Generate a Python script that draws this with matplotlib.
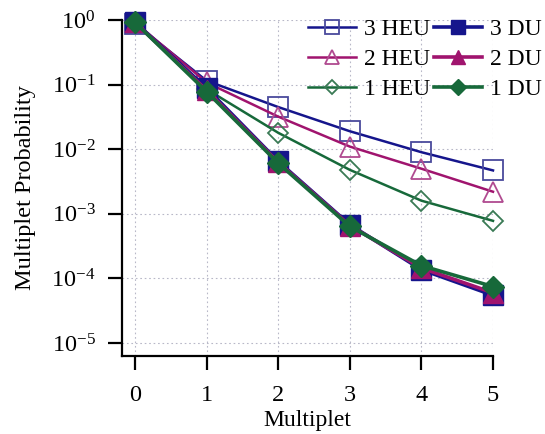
import math
import matplotlib
matplotlib.use("Agg")
import matplotlib.pyplot as plt
from matplotlib.ticker import FixedLocator, FuncFormatter

plt.rcParams['font.family'] = ['Liberation Serif', 'DejaVu Serif']
plt.rcParams['mathtext.fontset'] = 'custom'
plt.rcParams['mathtext.rm'] = 'Liberation Serif'
plt.rcParams['mathtext.it'] = 'Liberation Serif:italic'

multiplet = [0, 1, 2, 3, 4, 5]
heu3 = [0.88, 0.115, 0.045, 0.019, 0.0090, 0.0047]
heu2 = [0.92, 0.108, 0.032, 0.0110, 0.0050, 0.0022]
heu1 = [0.90, 0.085, 0.018, 0.0048, 0.0016, 0.00078]
du3 = [0.93, 0.088, 0.0065, 0.00068, 0.000137, 0.000055]
du2 = [0.92, 0.082, 0.0063, 0.00066, 0.000145, 0.000060]
du1 = [0.92, 0.078, 0.0061, 0.00064, 0.000158, 0.000075]
xticks = [0, 1, 2, 3, 4, 5]
yticks = [1e0, 1e-1, 1e-2, 1e-3, 1e-4, 1e-5]

navy = '#15158c'
purple = '#a0146e'
green = '#17693a'

fig = plt.figure(figsize=(5.45, 4.34), dpi=100)
ax = fig.add_axes([0.2239, 0.1797, 0.6807, 0.7742])

kw = dict(clip_on=False)
ax.plot(multiplet, heu3, '-', color=navy, lw=1.8, marker='s', ms=14, mfc='none',
        mec='#4a4a9c', mew=1.3, label='3 HEU', zorder=3, **kw)
ax.plot(multiplet, du3, '-', color=navy, lw=2.6, marker='s', ms=14, mfc=navy,
        mec=navy, label='3 DU', zorder=4, **kw)
ax.plot(multiplet, heu2, '-', color=purple, lw=1.8, marker='^', ms=14, mfc='none',
        mec='#b04a90', mew=1.3, label='2 HEU', zorder=3, **kw)
ax.plot(multiplet, du2, '-', color=purple, lw=2.6, marker='^', ms=14, mfc=purple,
        mec=purple, label='2 DU', zorder=4, **kw)
ax.plot(multiplet, heu1, '-', color=green, lw=1.8, marker='D', ms=10, mfc='none',
        mec='#3a7a55', mew=1.3, label='1 HEU', zorder=3, **kw)
ax.plot(multiplet, du1, '-', color=green, lw=2.6, marker='D', ms=11, mfc=green,
        mec=green, label='1 DU', zorder=5, **kw)

ax.set_yscale('log')
ax.set_xlim(-0.18, 5)
ax.set_ylim(10 ** -5.2, 1)
ax.xaxis.set_major_locator(FixedLocator(xticks))
ax.yaxis.set_major_locator(FixedLocator(yticks))
ax.yaxis.set_minor_locator(FixedLocator([]))
ax.yaxis.set_major_formatter(FuncFormatter(lambda v, p: r'$\mathregular{10^{%d}}$' % round(math.log10(v))))

ax.grid(True, which='major', color='#b8b8c8', linestyle=(0, (1.5, 2.5)), linewidth=0.8)
ax.set_axisbelow(True)
for s in ['top', 'right']:
    ax.spines[s].set_visible(False)
for s in ['left', 'bottom']:
    ax.spines[s].set_linewidth(1.6)
ax.tick_params(axis='both', which='major', direction='out', length=10, width=1.6,
               labelsize=17.5, color='black')
ax.tick_params(axis='y', pad=9)
ax.tick_params(axis='x', pad=11)

ax.set_xlabel('Multiplet', fontsize=17, labelpad=3)
ax.set_ylabel('Multiplet Probability', fontsize=17.5, labelpad=11)

handles, labels = ax.get_legend_handles_labels()
order = [0, 2, 4, 1, 3, 5]
leg = ax.legend([handles[i] for i in order], [labels[i] for i in order], ncol=2,
                frameon=False, fontsize=17, loc='upper right',
                bbox_to_anchor=(1.157, 1.032), handlelength=2.03, handletextpad=0.34,
                columnspacing=0.17, labelspacing=0.36, borderaxespad=0,
                markerscale=0.72)

fig.savefig('out.png', dpi=100)
